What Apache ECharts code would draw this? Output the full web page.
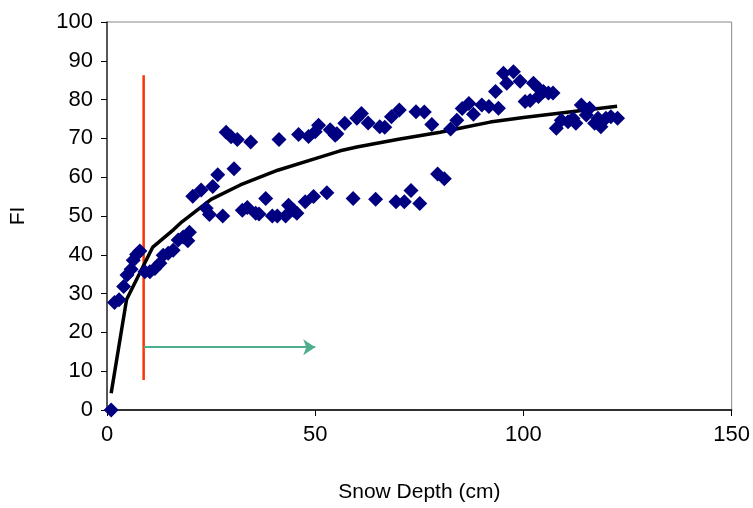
<!DOCTYPE html>
<html>
<head>
<meta charset="utf-8">
<script src="https://cdn.jsdelivr.net/npm/echarts@6/dist/echarts.min.js"></script>
<style>
html,body{margin:0;padding:0;background:#fff;}
#chart{width:753px;height:508px;}
</style>
</head>
<body>
<div id="chart"></div>
<script>
// Observed points: snow depth (cm) and FI
var depth = [1, 1.8, 2.9, 4.0, 4.8, 5.8, 6.3, 7.1, 7.9, 9.1, 10.3, 11.5, 12.7, 13.5, 14.7, 15.9, 17.1, 18.3, 19.4, 19.8,
  20.6, 22.6, 23.8, 24.6, 25.4, 26.6, 27.8, 28.6, 29.8, 30.5, 31.3, 32.5, 33.7, 34.5, 35.7, 36.5, 38.1, 39.7, 40.9, 41.3,
  42.9, 43.6, 44.8, 45.6, 46.0, 47.6, 48.4, 49.6, 50.0, 50.8, 52.8, 53.6, 54.8, 55.2, 57.1, 59.1, 60.0, 61.1, 62.7, 64.5,
  65.5, 66.7, 68.3, 69.4, 70.2, 71.4, 73.0, 74.2, 75.1, 76.2, 78.0, 79.4, 81.0, 82.5, 84.0, 85.3, 86.9, 88.0, 90.0, 91.7,
  93.3, 94.0, 95.2, 96.0, 97.6, 99.2, 100.4, 101.6, 102.4, 103.6, 103.6, 104.8, 106.0, 107.1, 107.9, 109.1, 110.7, 111.9, 112.6, 113.9,
  115.1, 115.9, 117.1, 117.9, 118.6, 119.8, 121.0, 122.6];
var fi = [0, 27.7, 28.4, 31.8, 34.8, 36.3, 38.6, 40.1, 41.0, 35.6, 35.6, 36.5, 37.8, 39.9, 40.4, 41.2, 43.8, 44.6, 43.6, 45.8,
  55.1, 56.7, 52.0, 50.4, 57.6, 60.6, 50.0, 71.6, 70.4, 62.2, 69.7, 51.5, 52.2, 69.1, 50.7, 50.5, 54.5, 50.0, 50.0, 69.7,
  50.0, 52.8, 51.5, 50.7, 71.0, 53.7, 70.5, 55.0, 71.7, 73.4, 56.0, 72.2, 70.8, 71.2, 73.9, 54.5, 75.2, 76.4, 74.0, 54.3,
  73.0, 72.9, 75.6, 53.7, 77.3, 53.7, 56.6, 76.9, 53.2, 76.8, 73.6, 60.8, 59.6, 72.4, 74.7, 77.7, 79.0, 76.2, 78.6, 78.2,
  82.1, 77.8, 86.8, 84.2, 87.2, 84.7, 79.5, 79.8, 84.2, 82.9, 80.8, 82.1, 81.7, 81.7, 72.6, 74.7, 74.3, 75.1, 73.9, 78.6,
  76.0, 77.8, 73.9, 75.2, 73.0, 75.2, 75.6, 75.2];

// Trend line
var trendX = [1, 4.7, 11, 16, 18, 25, 32, 41, 50, 56, 60, 70, 80, 85, 92, 100, 110, 122.5];
var trendY = [4.3, 28.5, 42, 46.5, 48.5, 54.3, 58, 61.8, 64.8, 66.8, 67.8, 69.8, 71.6, 72.7, 74.2, 75.4, 76.7, 78.3];

// Red threshold line and green arrow
var redLineX = [8.8, 8.8];
var redLineY = [7.7, 86.3];
var arrowX = [8.8, 50];
var arrowY = [16.2, 16.2];

var xTicks = [0, 50, 100, 150];
var yTicks = [0, 10, 20, 30, 40, 50, 60, 70, 80, 90, 100];

var FONT = '"Liberation Sans", Arial, sans-serif';

function zip(a, b) { return a.map(function (v, i) { return [v, b[i]]; }); }

var chart = echarts.init(document.getElementById('chart'), null, {renderer: 'canvas'});
chart.setOption({
  animation: false,
  backgroundColor: '#ffffff',
  grid: {
    left: 105, right: 18, top: 22, bottom: 98,
    show: true, borderColor: '#888888', borderWidth: 1, backgroundColor: 'transparent'
  },
  xAxis: {
    type: 'value',
    min: xTicks[0], max: xTicks[xTicks.length - 1], interval: 50,
    name: 'Snow Depth (cm)', nameLocation: 'middle', nameGap: 72,
    nameTextStyle: {fontFamily: FONT, fontSize: 21, color: '#000'},
    axisLine: {show: true, lineStyle: {color: '#000', width: 1.5}},
    axisTick: {show: true, inside: false, length: 6, lineStyle: {color: '#000'}},
    axisLabel: {fontFamily: FONT, fontSize: 22, color: '#000', margin: 14},
    splitLine: {show: false}
  },
  yAxis: {
    type: 'value',
    min: yTicks[0], max: yTicks[yTicks.length - 1], interval: 10,
    name: 'FI', nameLocation: 'middle', nameGap: 78, nameRotate: 90,
    nameTextStyle: {fontFamily: FONT, fontSize: 21, color: '#000'},
    axisLine: {show: true, lineStyle: {color: '#333', width: 1.5}},
    axisTick: {show: true, inside: false, length: 6, lineStyle: {color: '#000'}},
    axisLabel: {fontFamily: FONT, fontSize: 22, color: '#000', margin: 14},
    splitLine: {show: false}
  },
  series: [
    {
      type: 'line',
      data: zip(redLineX, redLineY),
      symbol: 'none',
      lineStyle: {color: '#FF3300', width: 2.5},
      z: 3
    },
    {
      type: 'line',
      data: zip(trendX, trendY),
      symbol: 'none',
      lineStyle: {color: '#000000', width: 3.5},
      z: 4
    },
    {
      type: 'scatter',
      data: zip(depth, fi),
      symbol: 'diamond',
      symbolSize: [15, 15],
      itemStyle: {color: '#000080', opacity: 1},
      z: 5
    },
    {
      type: 'line',
      data: [],
      symbol: 'none',
      markLine: {
        silent: true,
        symbol: ['none', 'arrow'],
        symbolSize: [12, 12],
        label: {show: false},
        lineStyle: {color: '#4DAF8E', width: 2, type: 'solid'},
        data: [[{coord: [arrowX[0], arrowY[0]]}, {coord: [arrowX[1], arrowY[1]]}]]
      },
      z: 3
    }
  ]
});
</script>
</body>
</html>
